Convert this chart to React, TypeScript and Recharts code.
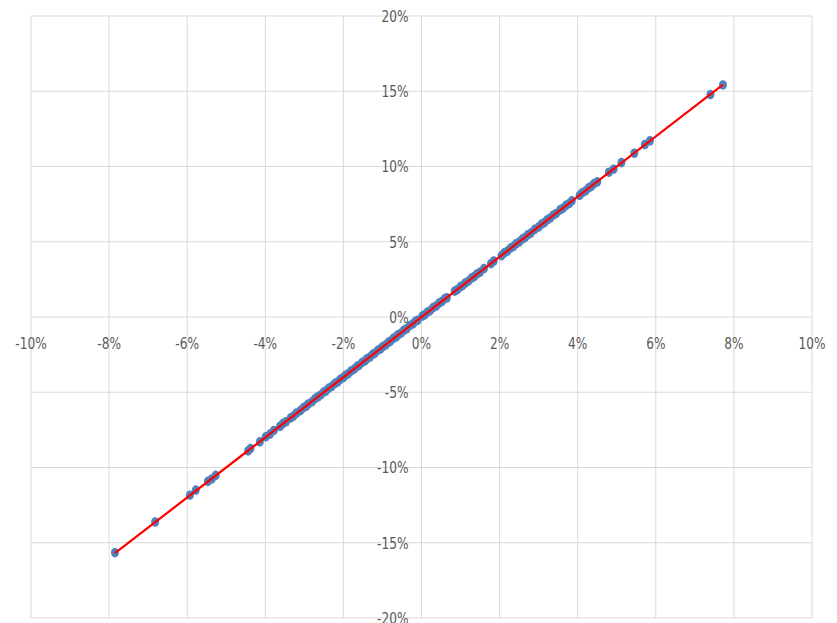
import { ScatterChart, Scatter, XAxis, YAxis, CartesianGrid } from 'recharts'

const CHART_WIDTH = 837
const CHART_HEIGHT = 623
const MARGIN = { top: 16, right: 25, bottom: 4, left: 30 }
const AXIS_SIZE = 1
const PLOT_LEFT = MARGIN.left + AXIS_SIZE
const PLOT_W = CHART_WIDTH - PLOT_LEFT - MARGIN.right
const PLOT_H = CHART_HEIGHT - MARGIN.top - MARGIN.bottom - AXIS_SIZE
const ZERO_X = PLOT_LEFT + PLOT_W / 2
const ZERO_Y = MARGIN.top + PLOT_H / 2

const X_TICKS = [-10, -8, -6, -4, -2, 0, 2, 4, 6, 8, 10]
const Y_TICKS = [-20, -15, -10, -5, 0, 5, 10, 15, 20]

// returns in %
const X_VALUES = [
  -7.85, -6.82, -5.93, -5.78, -5.47, -5.37, -5.27, -4.44, -4.38, -4.14, -3.99, -3.88, -3.78,
  -3.62, -3.55, -3.47, -3.35, -3.28, -3.2, -3.1, -3.02, -2.95, -2.9, -2.8, -2.72, -2.65,
  -2.58, -2.5, -2.45, -2.38, -2.3, -2.22, -2.15, -2.08, -2.0, -1.95, -1.88, -1.8, -1.72,
  -1.65, -1.6, -1.52, -1.45, -1.4, -1.32, -1.25, -1.2, -1.12, -1.05, -1.0, -0.92, -0.85,
  -0.8, -0.72, -0.65, -0.6, -0.52, -0.45, -0.38, -0.3, -0.22, -0.15, -0.1,
  0.02, 0.08, 0.15, 0.22, 0.3, 0.38, 0.45, 0.52, 0.6, 0.65, 0.85, 0.92, 1.0, 1.05, 1.12,
  1.2, 1.28, 1.35, 1.42, 1.5, 1.6, 1.78, 1.85, 2.05, 2.12, 2.2, 2.28, 2.35, 2.42, 2.5,
  2.58, 2.65, 2.72, 2.8, 2.9, 3.0, 3.08, 3.15, 3.22, 3.3, 3.38, 3.45, 3.55, 3.62, 3.7,
  3.78, 3.85, 4.05, 4.12, 4.2, 4.28, 4.35, 4.42, 4.5, 4.8, 4.92, 5.12, 5.45, 5.72, 5.85,
  7.4, 7.72,
]

const Y_VALUES = [
  -15.66, -13.62, -11.84, -11.5, -10.92, -10.76, -10.52, -8.9, -8.74, -8.3, -7.96, -7.78, -7.54,
  -7.26, -7.08, -6.96, -6.7, -6.58, -6.38, -6.22, -6.02, -5.92, -5.78, -5.62, -5.42, -5.3,
  -5.18, -4.98, -4.92, -4.74, -4.62, -4.42, -4.32, -4.14, -4.02, -3.88, -3.78, -3.58, -3.46,
  -3.28, -3.22, -3.02, -2.92, -2.78, -2.66, -2.48, -2.42, -2.22, -2.12, -1.98, -1.86, -1.68,
  -1.62, -1.42, -1.32, -1.18, -1.06, -0.88, -0.78, -0.58, -0.46, -0.28, -0.22,
  0.06, 0.14, 0.32, 0.42, 0.62, 0.74, 0.92, 1.02, 1.22, 1.28, 1.72, 1.82, 2.02, 2.08, 2.26,
  2.38, 2.58, 2.68, 2.86, 2.98, 3.22, 3.54, 3.72, 4.08, 4.26, 4.38, 4.58, 4.68, 4.86, 4.98,
  5.18, 5.28, 5.46, 5.58, 5.82, 5.98, 6.18, 6.28, 6.46, 6.58, 6.78, 6.88, 7.12, 7.22, 7.42,
  7.54, 7.72, 8.08, 8.26, 8.38, 8.58, 8.68, 8.86, 8.98, 9.62, 9.82, 10.26, 10.88, 11.46, 11.7,
  14.78, 15.42,
]

const points = X_VALUES.map((x, i) => ({ x, y: Y_VALUES[i] }))

// least squares trendline over the points
function fitLine(data: { x: number; y: number }[]) {
  const n = data.length
  const mx = data.reduce((s, p) => s + p.x, 0) / n
  const my = data.reduce((s, p) => s + p.y, 0) / n
  let num = 0
  let den = 0
  data.forEach(p => {
    num += (p.x - mx) * (p.y - my)
    den += (p.x - mx) * (p.x - mx)
  })
  const slope = num / den
  const intercept = my - slope * mx
  const xs = data.map(p => p.x)
  const x0 = Math.min(...xs)
  const x1 = Math.max(...xs)
  return [
    { x: x0, y: slope * x0 + intercept },
    { x: x1, y: slope * x1 + intercept },
  ]
}

const trend = fitLine(points)

const FONT = "'DejaVu Sans Condensed', 'DejaVu Sans', sans-serif"
const TEXT_COLOR = '#595959'
const GRID_COLOR = '#d9d9d9'
const FONT_SIZE = 16.5
const NARROW = 0.82

function renderXTick(props: any) {
  const { x, payload } = props
  return (
    <text
      transform={`translate(${x},${ZERO_Y + 26}) scale(${NARROW},1)`}
      dy="0.35em"
      textAnchor="middle"
      fill={TEXT_COLOR}
      fontSize={FONT_SIZE}
      fontFamily={FONT}
    >
      {`${payload.value}%`}
    </text>
  )
}

function renderYTick(props: any) {
  const { y, payload } = props
  return (
    <text
      transform={`translate(${ZERO_X - 13},${y}) scale(${NARROW},1)`}
      dy="0.35em"
      textAnchor="end"
      fill={TEXT_COLOR}
      fontSize={FONT_SIZE}
      fontFamily={FONT}
    >
      {`${payload.value}%`}
    </text>
  )
}

function Dot(props: any) {
  const { cx, cy } = props
  return <ellipse cx={cx} cy={cy} rx={4} ry={4.8} fill="#4F81BD" />
}

export default function App() {
  return (
    <div style={{ position: 'absolute', left: 0, top: 0, background: '#fff' }}>
      <ScatterChart width={CHART_WIDTH} height={CHART_HEIGHT} margin={MARGIN}>
        <CartesianGrid stroke={GRID_COLOR} strokeWidth={1} />
        <XAxis
          type="number"
          dataKey="x"
          domain={[-10, 10]}
          ticks={X_TICKS}
          height={AXIS_SIZE}
          axisLine={false}
          tickLine={false}
          tick={renderXTick}
          interval={0}
        />
        <YAxis
          type="number"
          dataKey="y"
          domain={[-20, 20]}
          ticks={Y_TICKS}
          width={AXIS_SIZE}
          axisLine={false}
          tickLine={false}
          tick={renderYTick}
          interval={0}
        />
        <Scatter data={points} shape={<Dot />} isAnimationActive={false} />
        <Scatter
          data={trend}
          line={{ stroke: '#FF0000', strokeWidth: 2.2 }}
          shape={() => <g />}
          isAnimationActive={false}
        />
      </ScatterChart>
    </div>
  )
}
